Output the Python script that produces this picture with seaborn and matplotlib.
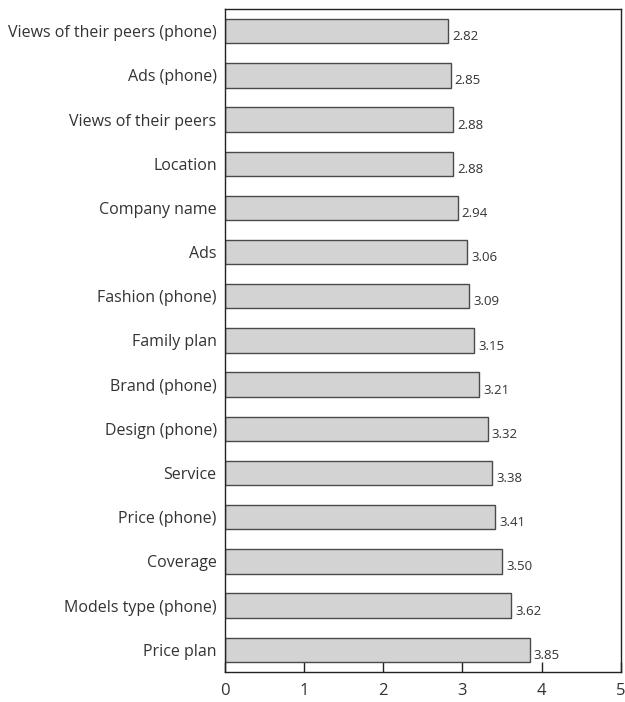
import pandas as pd
import seaborn as sns
from matplotlib import pyplot as plt

categories = [
    "Views of their peers (phone)", "Ads (phone)", "Views of their peers",
    "Location", "Company name", "Ads", "Fashion (phone)", "Family plan",
    "Brand (phone)", "Design (phone)", "Service", "Price (phone)",
    "Coverage", "Models type (phone)", "Price plan",
]
scores = [2.82, 2.85, 2.88, 2.88, 2.94, 3.06, 3.09, 3.15, 3.21, 3.32,
          3.38, 3.41, 3.50, 3.62, 3.85]
x_ticks = [0, 1, 2, 3, 4, 5]

sns.set_style("white")
plt.rcParams["font.family"] = ["Open Sans", "DejaVu Sans"]

df = pd.DataFrame({"factor": categories, "score": scores})

fig, ax = plt.subplots(figsize=(6.25, 7.02), dpi=100)
fig.subplots_adjust(left=0.36, right=0.993, top=0.987, bottom=0.043)

sns.barplot(ax=ax, data=df, x="score", y="factor", orient="h",
            color="#d3d3d3", edgecolor="#4a4a4a", linewidth=1.0,
            width=0.55, saturation=1)

for i, v in enumerate(scores):
    ax.annotate(f"{v:.2f}", xy=(v, i), xytext=(3, -4), textcoords="offset points",
                ha="left", va="center", fontsize=9.5, color="#333333")

ax.set_xlim(0, 5)
ax.set_xticks(x_ticks)
ax.set_xticklabels([str(t) for t in x_ticks])
ax.set_xlabel("")
ax.set_ylabel("")

for s in ax.spines.values():
    s.set_visible(True)
    s.set_color("#222222")
    s.set_linewidth(1.0)

ax.tick_params(axis="x", direction="in", length=7, width=1, color="#222222",
               labelsize=12, labelcolor="#333333", pad=8, bottom=True)
ax.tick_params(axis="y", length=0, labelsize=11.5, labelcolor="#333333", pad=6)

plt.savefig("out.png", dpi=100)
